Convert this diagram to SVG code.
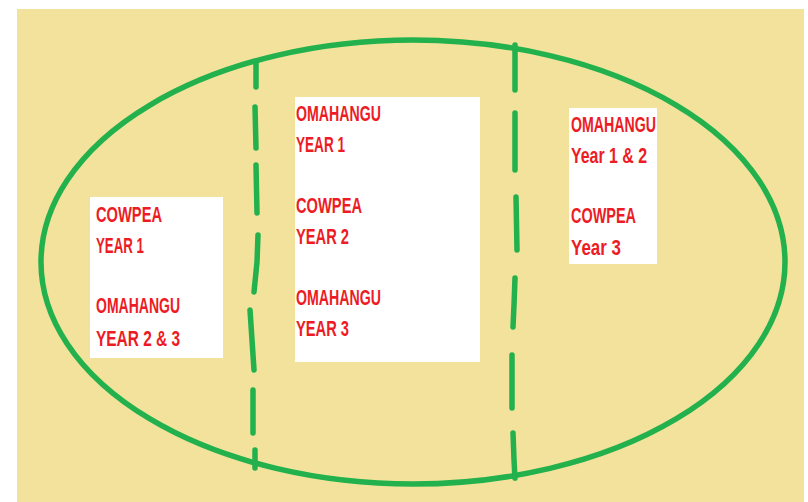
<svg xmlns="http://www.w3.org/2000/svg" width="808" height="502" viewBox="0 0 808 502">
<style>
.bg{fill:#F3E29C}
.field{fill:none;stroke:#22B14C;stroke-width:5.5}
.div{fill:none;stroke:#22B14C;stroke-width:5.5;stroke-linecap:round}
.box{fill:#FFFFFF}
.t{font-family:"Liberation Sans",Arial,sans-serif;font-weight:bold;font-size:22.5px;fill:#ED1C24}
</style>
<rect x="0" y="0" width="808" height="502" fill="#FFFFFF"/>
<rect class="bg" x="17" y="9" width="787" height="493"/>
<g id="field">
<ellipse class="field" cx="413" cy="262" rx="372" ry="222"/>
</g>
<g id="dividers">
<path class="div" d="M256 62 L256 87 M255 107 L256 148 M256 165 L257 213 M258 235 L257 262 L254 292 M250 310 L252 340 L254 370 M253 390 L253 433 M255 450 L255 468"/>
<path class="div" d="M515 45 L515 90 M515 113 L515 170 M516 197 L517 250 M515 278 L514 305 L513 327 M512 355 L512 408 M513 433 L514 460 L515 478"/>
</g>
<g id="box-left">
<rect class="box" x="90" y="197" width="133" height="161"/>
<text class="t" x="96" y="222" textLength="66" lengthAdjust="spacingAndGlyphs">COWPEA</text>
<text class="t" x="96" y="253" textLength="48" lengthAdjust="spacingAndGlyphs">YEAR 1</text>
<text class="t" x="96" y="313" textLength="84" lengthAdjust="spacingAndGlyphs">OMAHANGU</text>
<text class="t" x="96" y="346" textLength="84" lengthAdjust="spacingAndGlyphs">YEAR 2 &amp; 3</text>
</g>
<g id="box-middle">
<rect class="box" x="295" y="97" width="185" height="265"/>
<text class="t" x="296" y="121" textLength="85" lengthAdjust="spacingAndGlyphs">OMAHANGU</text>
<text class="t" x="296" y="152" textLength="49" lengthAdjust="spacingAndGlyphs">YEAR 1</text>
<text class="t" x="296" y="213" textLength="66" lengthAdjust="spacingAndGlyphs">COWPEA</text>
<text class="t" x="296" y="244" textLength="53" lengthAdjust="spacingAndGlyphs">YEAR 2</text>
<text class="t" x="296" y="305" textLength="85" lengthAdjust="spacingAndGlyphs">OMAHANGU</text>
<text class="t" x="296" y="336" textLength="53" lengthAdjust="spacingAndGlyphs">YEAR 3</text>
</g>
<g id="box-right">
<rect class="box" x="569" y="108" width="88" height="156"/>
<text class="t" x="571" y="132" textLength="85" lengthAdjust="spacingAndGlyphs">OMAHANGU</text>
<text class="t" x="571" y="163" textLength="76" lengthAdjust="spacingAndGlyphs">Year 1 &amp; 2</text>
<text class="t" x="571" y="223" textLength="65" lengthAdjust="spacingAndGlyphs">COWPEA</text>
<text class="t" x="571" y="255" textLength="50" lengthAdjust="spacingAndGlyphs">Year 3</text>
</g>
</svg>
